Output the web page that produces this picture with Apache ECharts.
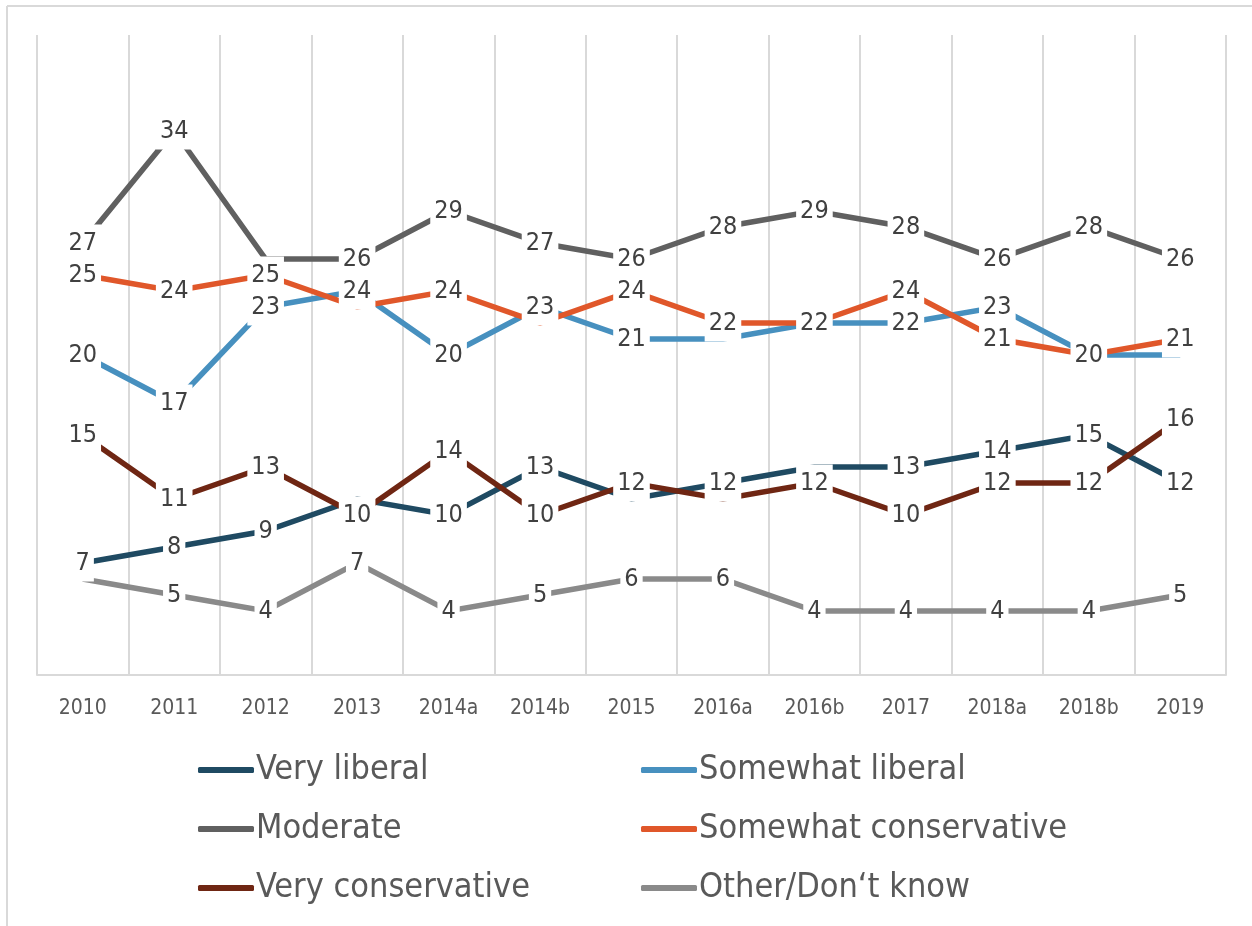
<!DOCTYPE html>
<html>
<head>
<meta charset="utf-8">
<script src="https://cdn.jsdelivr.net/npm/echarts@6/dist/echarts.min.js"></script>
<style>
  html, body { margin: 0; padding: 0; background: #fff; }
  #chart { width: 1252px; height: 926px; }
</style>
</head>
<body>
<div id="chart"></div>
<script>
// Survey waves
const years = ['2010', '2011', '2012', '2013', '2014a', '2014b', '2015', '2016a', '2016b', '2017', '2018a', '2018b', '2019'];

// Share of respondents (%) by ideology
const veryLiberal        = [7, 8, 9, 11, 10, 13, 11, 12, 13, 13, 14, 15, 12];
const somewhatLiberal    = [20, 17, 23, 24, 20, 23, 21, 21, 22, 22, 23, 20, 20];
const moderate           = [27, 34, 26, 26, 29, 27, 26, 28, 29, 28, 26, 28, 26];
const somewhatConserv    = [25, 24, 25, 23, 24, 22, 24, 22, 22, 24, 21, 20, 21];
const veryConserv        = [15, 11, 13, 10, 14, 10, 12, 11, 12, 10, 12, 12, 16];
const otherDontKnow      = [6, 5, 4, 7, 4, 5, 6, 6, 4, 4, 4, 4, 5];

// Points whose value label is left off (it would sit on top of a neighbour's)
const noLabelVeryLiberal     = [3, 6, 8];
const noLabelSomewhatLiberal = [7, 12];
const noLabelModerate        = [2];
const noLabelSomewhatConserv = [3, 5, 8, 11];
const noLabelVeryConserv     = [7];
const noLabelOther           = [0];

const FONT = "'Liberation Sans Narrow', 'DejaVu Sans Condensed', 'Roboto', sans-serif";

function makeSeries(name, values, hidden, color) {
  return {
    name: name,
    type: 'line',
    data: values.map((v, i) => hidden.includes(i)
      ? { value: v, label: { show: false } }
      : v),
    symbol: 'circle',
    symbolSize: 1,
    itemStyle: { color: color },
    lineStyle: { color: color, width: 5.5, cap: 'butt', join: 'miter' },
    emphasis: { disabled: true },
    animation: false,
    label: {
      show: true,
      position: 'inside',
      color: '#404040',
      fontFamily: FONT,
      fontSize: 25,
      lineHeight: 25,
      backgroundColor: '#ffffff',
      padding: [6, 4, 6, 4]
    },
    labelLayout: { hideOverlap: false }
  };
}

const chart = echarts.init(document.getElementById('chart'), null, { renderer: 'canvas' });

const legendText = { color: '#595959', fontFamily: FONT, fontSize: 34, lineHeight: 34, padding: [0, 0, 0, -3] };

chart.setOption({
  backgroundColor: '#ffffff',
  animation: false,
  graphic: [
    { type: 'line', shape: { x1: 7, y1: 6, x2: 1252, y2: 6 }, style: { stroke: '#d9d9d9', lineWidth: 2 } },
    { type: 'line', shape: { x1: 7, y1: 6, x2: 7, y2: 926 }, style: { stroke: '#d9d9d9', lineWidth: 2 } }
  ],
  grid: { left: 37, right: 26, top: 35, bottom: 251, containLabel: false },
  xAxis: {
    type: 'category',
    data: years,
    boundaryGap: true,
    axisLine: { show: true, lineStyle: { color: '#d9d9d9', width: 2 } },
    axisTick: { show: false },
    splitLine: { show: true, lineStyle: { color: '#d9d9d9', width: 2 } },
    axisLabel: { color: '#595959', fontFamily: FONT, fontSize: 21, margin: 23 }
  },
  yAxis: {
    type: 'value',
    min: 0,
    max: 40,
    interval: 5,
    show: false,
    splitLine: { show: false }
  },
  legend: [
    {
      orient: 'vertical',
      left: 193,
      top: 748,
      itemWidth: 56,
      itemHeight: 6,
      itemGap: 25,
      icon: 'roundRect',
      textStyle: legendText,
      data: ['Very liberal', 'Moderate', 'Very conservative'],
      selectedMode: false
    },
    {
      orient: 'vertical',
      left: 636,
      top: 748,
      itemWidth: 56,
      itemHeight: 6,
      itemGap: 25,
      icon: 'roundRect',
      textStyle: legendText,
      data: ['Somewhat liberal', 'Somewhat conservative', 'Other/Don‘t know'],
      selectedMode: false
    }
  ],
  series: [
    makeSeries('Very liberal', veryLiberal, noLabelVeryLiberal, '#1f4a62'),
    makeSeries('Somewhat liberal', somewhatLiberal, noLabelSomewhatLiberal, '#4790bf'),
    makeSeries('Moderate', moderate, noLabelModerate, '#606060'),
    makeSeries('Somewhat conservative', somewhatConserv, noLabelSomewhatConserv, '#e0572a'),
    makeSeries('Very conservative', veryConserv, noLabelVeryConserv, '#6f2613'),
    makeSeries('Other/Don‘t know', otherDontKnow, noLabelOther, '#8a8a8a')
  ]
});
</script>
</body>
</html>
